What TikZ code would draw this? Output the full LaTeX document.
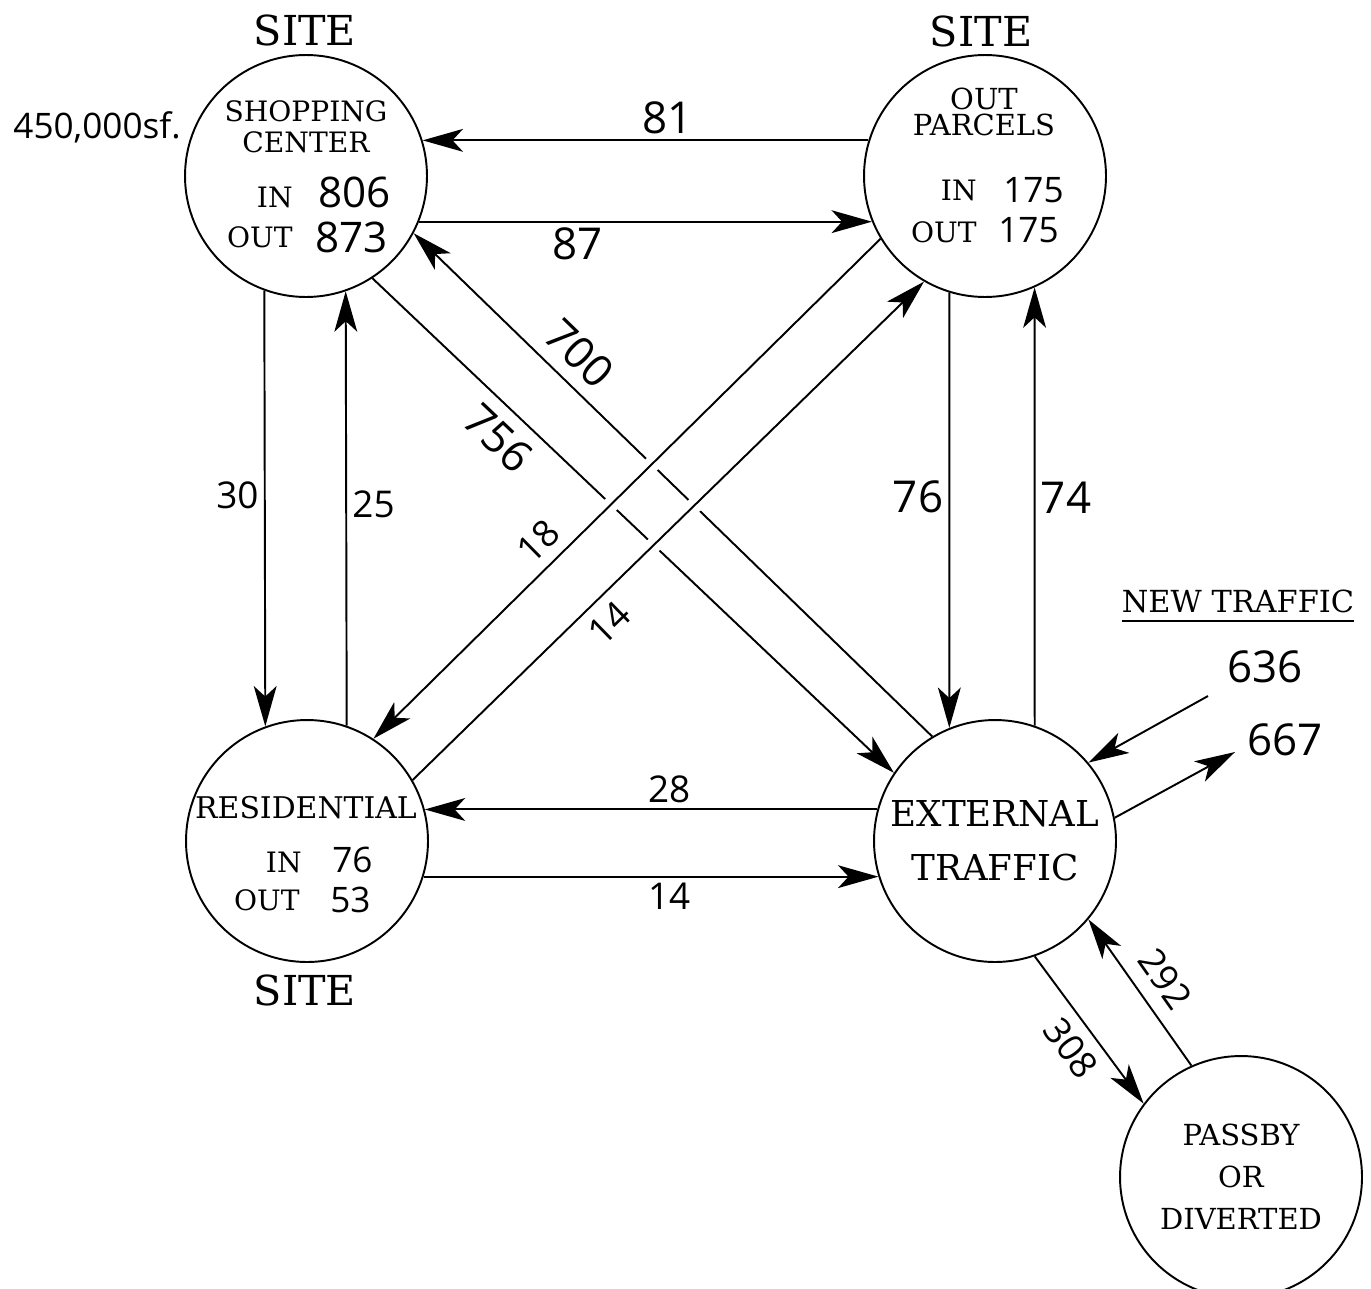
\documentclass[tikz,border=0pt]{standalone}
\usepackage{fontspec}
\setmainfont{DejaVu Serif}
\newfontfamily\handfont{Open Sans}
\usetikzlibrary{arrows.meta, calc}

\begin{document}
\begin{tikzpicture}[x=0.02cm, y=-0.02cm,
  stn/.style={draw, circle, line width=1.1pt, inner sep=0pt, minimum size=4.84cm, align=center},
  flow/.style={line width=1.1pt, -{Stealth[length=23pt, width=13pt, inset=6pt]}},
  gap/.style={draw=white, line width=9pt},
  site/.style={font=\fontsize{23.5}{28}\selectfont, inner sep=0pt},
  txt/.style={font=\fontsize{16}{17.6}\selectfont, inner sep=0pt, align=center},
  hand/.style={font=\handfont\fontsize{24}{28}\selectfont, inner sep=0pt},
  num/.style={font=\handfont\fontsize{25}{28}\selectfont, inner sep=3pt},
  numsm/.style={font=\handfont\fontsize{21}{24}\selectfont, inner sep=3pt},
]

\fill[white] (0,0) rectangle (1371,1288);
\useasboundingbox (0,0) rectangle (1371,1288);

%% Stations
\node[stn] (sc) at (306,176) {};
\node[stn] (op) at (985,176) {};
\node[stn] (res) at (307,841) {};
\node[stn, font=\fontsize{20.3}{31}\selectfont] (ext) at (995,841) {EXTERNAL\\TRAFFIC};
\node[stn, font=\fontsize{16.5}{24}\selectfont] (pb) at (1241,1177) {PASSBY\\OR\\DIVERTED};

%% Site labels
\node[site] (sitesc) at (305,30) {SITE};
\node[site] (siteop) at (981,31) {SITE};
\node[site] (siteres) at (305,990) {SITE};
\node[hand, font=\handfont\fontsize{20}{24}\selectfont] (area) at (97,127) {450,000sf.};

%% Shopping center
\node[txt] (scname) at (306,127) {SHOPPING\\CENTER};
\node[txt, anchor=base east] (scin) at (293,207) {IN};
\node[hand, anchor=base west] (scinv) at (318,207) {806};
\node[txt, anchor=base east] (scout) at (293,247) {OUT};
\node[hand, anchor=base west] (scoutv) at (315,252) {873};

%% Out parcels
\node[txt, font=\fontsize{16.5}{15.3}\selectfont] (opname) at (984,112) {OUT\\PARCELS};
\node[txt, anchor=base east] (opin) at (977,200) {IN};
\node[hand, anchor=base west, font=\handfont\fontsize{20}{24}\selectfont] (opinv) at (1003,202) {175};
\node[txt, anchor=base east] (opout) at (977,242) {OUT};
\node[hand, anchor=base west, font=\handfont\fontsize{20}{24}\selectfont] (opoutv) at (998,242) {175};

%% Residential
\node[txt, font=\fontsize{17}{20}\selectfont] (resname) at (306,808) {RESIDENTIAL};
\node[txt, anchor=base east] (resin) at (302,872) {IN};
\node[hand, anchor=base west, font=\handfont\fontsize{20}{24}\selectfont] (resinv) at (332,872) {76};
\node[txt, anchor=base east] (resout) at (300,910) {OUT};
\node[hand, anchor=base west, font=\handfont\fontsize{20}{24}\selectfont] (resoutv) at (330,912) {53};

%% Straight flows
\draw[flow] (op.163) -- (sc.17) node[num, pos=.45, above] {81};
\draw[flow] (sc.-22) -- (op.202) node[num, pos=.35, below] {87};
\draw[flow] (sc.-110) -- (res.110) node[numsm, pos=.47, left] {30};
\draw[flow] (res.71) -- (sc.-71) node[numsm, pos=.51, right] {25};
\draw[flow] (op.-107) -- (ext.112) node[num, pos=.47, left] {76};
\draw[flow] (ext.71) -- (op.-66) node[num, pos=.52, right] {74};
\draw[flow] (ext.165) -- (res.15) node[numsm, pos=.46, above] {28};
\draw[flow] (res.-17) -- (ext.197) node[numsm, pos=.54, below] {14};

%% Diagonals (18 and 14 pass over 700 and 756)
\draw[flow] (ext.121) -- (sc.-28) node[num, pos=.72, sloped, above=4pt] {700};
\draw[flow] (sc.-57) -- (ext.146) node[num, pos=.28, sloped, below=4pt] {756};
\draw[gap] ($(op.211)!.35!(res.57)$) -- ($(op.211)!.65!(res.57)$);
\draw[gap] ($(res.30)!.35!(op.240)$) -- ($(res.30)!.65!(op.240)$);
\draw[flow] (op.211) -- (res.57) node[numsm, pos=.64, sloped, above=3pt] {18};
\draw[flow] (res.30) -- (op.240) node[numsm, pos=.35, sloped, below=3pt] {14};

%% Passby
\draw[flow] (ext.-71) -- (pb.143) node[numsm, pos=.52, sloped, below=3pt] {308};
\draw[flow] (pb.114) -- (ext.-40) node[numsm, pos=.48, sloped, above=5pt] {292};

%% New traffic
\node[font=\fontsize{17.3}{20}\selectfont, inner sep=0pt] (newtr) at (1238,601) {NEW TRAFFIC};
\draw[line width=1.1pt] ([yshift=-5pt]newtr.base west) -- ([yshift=-5pt]newtr.base east);
\coordinate (newin) at (1208,696);
\coordinate (newout) at (1235,752);
\draw[flow] (newin) -- (ext.40);
\draw[flow] (ext.11) -- (newout);
\node[num] (n636) at (1265,667) {636};
\node[num] (n667) at (1285,740) {667};

\end{tikzpicture}
\end{document}
